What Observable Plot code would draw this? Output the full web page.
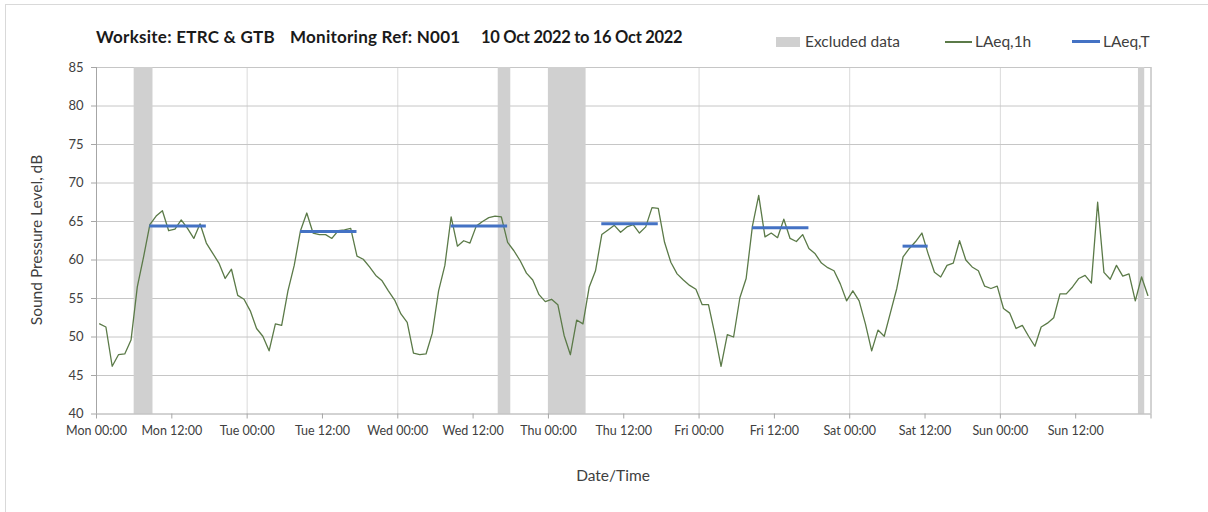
<!DOCTYPE html>
<html>
<head>
<meta charset="utf-8">
<script src="https://cdn.jsdelivr.net/npm/d3@7"></script>
<script src="https://cdn.jsdelivr.net/npm/@observablehq/plot@0.6"></script>
<style>
  html, body { margin: 0; padding: 0; background: #fff; width: 1208px; height: 512px; overflow: hidden; }
  body { font-family: Lato, "Open Sans", sans-serif; position: relative; }
  .border { position: absolute; left: 5px; top: 4px; width: 1220px; height: 530px; border: 1px solid #d9d9d9; box-sizing: border-box; }
  #chart { position: absolute; left: 0; top: 0; }
  .title { position: absolute; top: 26px; font-weight: bold; font-size: 17px; letter-spacing: 0.25px; color: #1a1a1a; white-space: nowrap; }
  .leg { position: absolute; top: 32px; font-size: 15.5px; color: #404040; white-space: nowrap; }
  .sw { position: absolute; }
  .ylab { position: absolute; left: 36px; top: 240px; transform: translate(-50%, -50%) rotate(-90deg); font-size: 15.5px; color: #404040; white-space: nowrap; }
  .xlab { position: absolute; left: 613px; top: 475px; transform: translate(-50%, -50%); font-size: 15.5px; color: #404040; white-space: nowrap; }
</style>
</head>
<body>
<div class="border"></div>
<div id="chart"></div>
<div class="title" style="left:96px">Worksite: ETRC &amp; GTB</div>
<div class="title" style="left:290px">Monitoring Ref: N001</div>
<div class="title" style="left:481px; top:26.5px; font-size:16.5px; letter-spacing:-0.3px">10 Oct 2022 to 16 Oct 2022</div>
<div class="sw" style="left:776px; top:37px; width:24px; height:10px; background:#d0d0d0"></div>
<div class="leg" style="left:805px">Excluded data</div>
<div class="sw" style="left:945px; top:41px; width:27px; height:1.5px; background:#5b7a48"></div>
<div class="leg" style="left:975px">LAeq,1h</div>
<div class="sw" style="left:1072px; top:40px; width:28px; height:3px; background:#4472c4"></div>
<div class="leg" style="left:1103px">LAeq,T</div>
<div class="ylab">Sound Pressure Level, dB</div>
<div class="xlab">Date/Time</div>
<script>
// Hourly LAeq,1h values (dB), Mon 00:00 .. Sun 23:00
const hourlyLAeq = [
  51.7, 51.3, 46.2, 47.7, 47.8, 49.6, 56.5, 60.4, 64.6, 65.7, 66.4, 63.8,
  64.0, 65.2, 64.1, 62.8, 64.7, 62.2, 60.9, 59.6, 57.6, 58.8, 55.4, 54.9,
  53.4, 51.1, 50.1, 48.2, 51.7, 51.5, 56.0, 59.3, 63.8, 66.1, 63.5, 63.3,
  63.3, 62.8, 63.8, 63.9, 64.1, 60.5, 60.1, 59.1, 58.0, 57.3, 56.0, 54.8,
  53.0, 51.9, 47.9, 47.7, 47.8, 50.5, 56.0, 59.3, 65.6, 61.8, 62.5, 62.2,
  64.4, 65.0, 65.5, 65.7, 65.6, 62.3, 61.2, 59.9, 58.3, 57.4, 55.5, 54.6,
  54.9, 54.2, 50.2, 47.7, 52.2, 51.7, 56.5, 58.6, 63.3, 63.9, 64.5, 63.6,
  64.3, 64.6, 63.5, 64.3, 66.8, 66.7, 62.3, 59.7, 58.2, 57.4, 56.7, 56.2,
  54.2, 54.2, 50.4, 46.2, 50.3, 50.0, 55.1, 57.6, 64.4, 68.4, 63.0, 63.5,
  62.9, 65.3, 62.8, 62.4, 63.3, 61.5, 60.8, 59.6, 59.0, 58.6, 56.9, 54.7,
  56.0, 54.7, 51.7, 48.2, 50.9, 50.1, 53.2, 56.3, 60.4, 61.5, 62.4, 63.5,
  60.8, 58.4, 57.8, 59.3, 59.6, 62.5, 60.0, 59.1, 58.6, 56.6, 56.3, 56.6,
  53.7, 53.1, 51.1, 51.5, 50.1, 48.8, 51.3, 51.8, 52.5, 55.6, 55.6, 56.5,
  57.6, 58.0, 57.0, 67.5, 58.4, 57.5, 59.3, 57.9, 58.2, 54.7, 57.8, 55.4
];
// Excluded data periods (hours from Mon 00:00)
const excludedStart = [6, 64, 72, 166];
const excludedEnd   = [9, 66, 78, 167];
// LAeq,T daytime periods (hours from Mon 00:00) and levels (dB)
const periodStart = [8.5, 32.5, 56.5, 80.5, 104.5, 128.5];
const periodEnd   = [17.5, 41.5, 65.5, 89.5, 113.5, 132.5];
const periodLevel = [64.4, 63.7, 64.4, 64.7, 64.2, 61.8];
// Axis ticks
const tickLabels = ["Mon 00:00", "Mon 12:00", "Tue 00:00", "Tue 12:00", "Wed 00:00", "Wed 12:00",
  "Thu 00:00", "Thu 12:00", "Fri 00:00", "Fri 12:00", "Sat 00:00", "Sat 12:00", "Sun 00:00", "Sun 12:00"];
const xTickHours = d3.range(0, 169, 12);
const dayHours = d3.range(24, 168, 24);
const yTicks = [40, 45, 50, 55, 60, 65, 70, 75, 80, 85];

const lineData = hourlyLAeq.map((v, i) => ({t: i + 0.5, v}));
const excluded = excludedStart.map((s, i) => ({s, e: excludedEnd[i]}));
const periods = periodStart.map((s, i) => ({s, e: periodEnd[i], v: periodLevel[i]}));

const plot = Plot.plot({
  width: 1208,
  height: 512,
  marginLeft: 96,
  marginRight: 57.5,
  marginTop: 67,
  marginBottom: 98.5,
  style: {fontFamily: "Lato, 'Open Sans', sans-serif", fontSize: "12.5px", background: "transparent", color: "#404040"},
  x: {domain: [0, 168]},
  y: {domain: [40, 85]},
  marks: [
    Plot.ruleX(dayHours, {stroke: "#dadada", strokeWidth: 1}),
    Plot.ruleY(yTicks.filter(d => d > 40), {stroke: "#c6c6c6", strokeWidth: 1}),
    Plot.rectX(excluded, {x1: "s", x2: "e", y1: 40, y2: 85, fill: "#d0d0d0"}),
    Plot.ruleX([0, 168], {stroke: "#a6a6a6", strokeWidth: 1}),
    Plot.ruleY([40], {stroke: "#a6a6a6", strokeWidth: 1}),
    Plot.axisY({ticks: yTicks, tickSize: 5, tickPadding: 8, stroke: "#a6a6a6", fill: "#404040", fontSize: 13, label: null}),
    Plot.axisX({ticks: xTickHours, tickSize: 5, tickPadding: 7, stroke: "#a6a6a6", fill: "#404040",
      tickFormat: d => tickLabels[d / 12] ?? "", label: null}),
    Plot.line(lineData, {x: "t", y: "v", stroke: "#5b7a48", strokeWidth: 1.3}),
    Plot.ruleY(periods, {x1: "s", x2: "e", y: "v", stroke: "#4472c4", strokeWidth: 3})
  ]
});
document.getElementById("chart").appendChild(plot);
</script>
</body>
</html>
